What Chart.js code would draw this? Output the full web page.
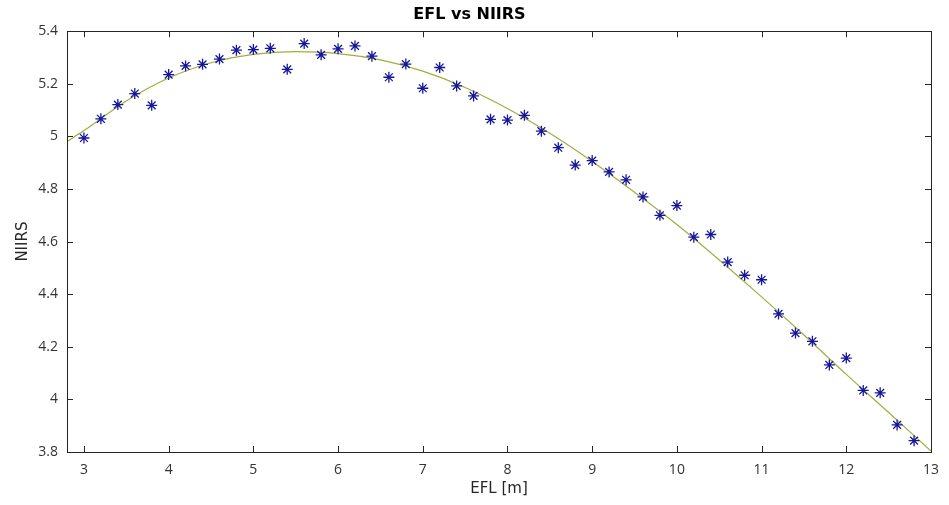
<!DOCTYPE html>
<html><head><meta charset="utf-8">
<script src="https://cdn.jsdelivr.net/npm/chart.js@4.4.0/dist/chart.umd.min.js"></script>
<style>html,body{margin:0;padding:0;background:#fff}#wrap{width:949px;height:505px}</style>
</head><body><div id="wrap"><canvas id="c" width="949" height="505"></canvas></div>
<script>
const chartTitle = 'EFL vs NIIRS';
const xTitle = 'EFL [m]';
const yTitle = 'NIIRS';
const efl = [3.0,3.2,3.4,3.6,3.8,4.0,4.2,4.4,4.6,4.8,5.0,5.2,5.4,5.6,5.8,6.0,6.2,6.4,6.6,6.8,7.0,7.2,7.4,7.6,7.8,8.0,8.2,8.4,8.6,8.8,9.0,9.2,9.4,9.6,9.8,10.0,10.2,10.4,10.6,10.8,11.0,11.2,11.4,11.6,11.8,12.0,12.2,12.4,12.6,12.8];
const niirs = [4.994,5.067,5.121,5.163,5.118,5.235,5.268,5.274,5.294,5.328,5.330,5.335,5.255,5.353,5.310,5.333,5.344,5.305,5.225,5.275,5.183,5.262,5.192,5.154,5.065,5.062,5.080,5.020,4.957,4.891,4.908,4.865,4.835,4.770,4.700,4.737,4.617,4.627,4.522,4.472,4.455,4.325,4.252,4.221,4.131,4.157,4.034,4.025,3.903,3.843];
const fitEfl = [2.8,3.0,3.5,4.0,4.5,5.0,5.5,6.0,6.5,7.0,7.5,8.0,8.5,9.0,9.5,10.0,10.5,11.0,11.5,12.0,12.5,13.0];
const fitNiirs = [4.980,5.022,5.135,5.222,5.280,5.312,5.322,5.315,5.291,5.248,5.186,5.106,5.012,4.905,4.788,4.665,4.530,4.390,4.245,4.095,3.950,3.804];
const xTicks = [3,4,5,6,7,8,9,10,11,12,13];
const yTicks = [3.8,4.0,4.2,4.4,4.6,4.8,5.0,5.2,5.4];

const axisColor = '#262626';
const tickFont = {family:'"Open Sans", sans-serif', size:14};

const innerTicks = {
  id:'innerTicks',
  afterDraw(chart){
    const {ctx, chartArea:a, scales:{x, y}} = chart;
    const L = 6;
    ctx.save();
    ctx.strokeStyle = axisColor;
    ctx.lineWidth = 1;
    ctx.beginPath();
    xTicks.forEach(v => {
      const px = Math.round(x.getPixelForValue(v)) + 0.5;
      ctx.moveTo(px, a.bottom); ctx.lineTo(px, a.bottom - L);
      ctx.moveTo(px, a.top); ctx.lineTo(px, a.top + L);
    });
    yTicks.forEach(v => {
      const py = Math.round(y.getPixelForValue(v)) + 0.5;
      ctx.moveTo(a.left, py); ctx.lineTo(a.left + L, py);
      ctx.moveTo(a.right, py); ctx.lineTo(a.right - L, py);
    });
    ctx.stroke();
    ctx.strokeRect(Math.round(a.left)+0.5, Math.round(a.top)+0.5, Math.round(a.right)-Math.round(a.left), Math.round(a.bottom)-Math.round(a.top));
    ctx.restore();
  }
};

new Chart(document.getElementById('c'), {
  type:'scatter',
  data:{
    datasets:[
      {
        label:'fit',
        data: fitEfl.map((v,i)=>({x:v, y:fitNiirs[i]})),
        showLine:true,
        borderColor:'#a0ae3c',
        borderWidth:1.2,
        pointRadius:0,
        cubicInterpolationMode:'monotone',
        order:2
      },
      {
        label:'data',
        data: efl.map((v,i)=>({x:v, y:niirs[i]})),
        showLine:false,
        pointStyle:'star',
        pointRadius:5.5,
        pointBorderWidth:1.3,
        borderColor:'#17179c',
        backgroundColor:'#17179c',
        order:1
      }
    ]
  },
  options:{
    responsive:false,
    animation:false,
    layout:{padding:{left:0,right:10,top:0,bottom:0}},
    plugins:{
      legend:{display:false},
      tooltip:{enabled:false},
      title:{display:true, text:chartTitle, color:'#000',
        font:{family:'"DejaVu Sans", sans-serif', size:16, weight:'bold'},
        padding:{top:5,bottom:7}}
    },
    scales:{
      x:{
        type:'linear', min:2.8, max:13,
        afterBuildTicks(s){ s.ticks = xTicks.map(v=>({value:v})); },
        afterFit(s){ s.height = 53; },
        grid:{display:false, drawTicks:false},
        border:{display:false},
        ticks:{color:'#333', font:tickFont, padding:10, maxRotation:0, callback:v=>String(+v.toFixed(2))},
        title:{display:true, text:xTitle, color:'#262626',
          font:{family:'"DejaVu Sans", sans-serif', size:15}, padding:{top:0,bottom:7}}
      },
      y:{
        type:'linear', min:3.8, max:5.4,
        afterBuildTicks(s){ s.ticks = yTicks.map(v=>({value:v})); },
        afterFit(s){ s.width = 67; },
        grid:{display:false, drawTicks:false},
        border:{display:false},
        ticks:{color:'#333', font:tickFont, padding:9, callback:v=>String(+v.toFixed(2))},
        title:{display:true, text:yTitle, color:'#262626',
          font:{family:'"DejaVu Sans", sans-serif', size:15}, padding:{top:14,bottom:0}}
      }
    }
  },
  plugins:[innerTicks]
});
</script>
</body></html>
